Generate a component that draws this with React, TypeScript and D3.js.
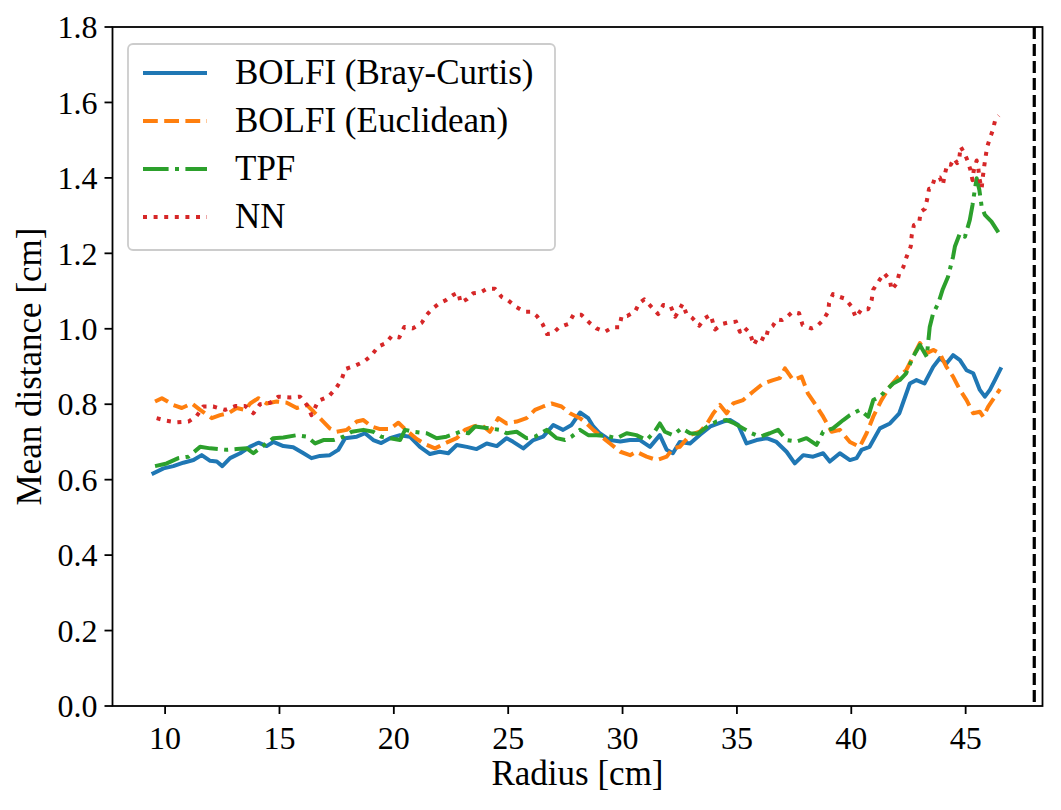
import React from 'react';
import * as d3 from 'd3';

// radius [cm] / mean distance [cm] for each method
const bcRadius = [9.49, 9.93, 10.36, 10.8, 11.24, 11.6, 11.97, 12.26, 12.5, 12.84, 13.28, 13.7, 14.08, 14.44, 14.73, 15.17, 15.6, 16.05, 16.4, 16.77, 17.2, 17.57, 17.87, 18.38, 18.74, 19.1, 19.45, 19.83, 20.27, 20.7, 21.14, 21.58, 22.0, 22.38, 22.75, 23.19, 23.62, 24.06, 24.5, 24.93, 25.2, 25.66, 26.1, 26.53, 26.97, 27.4, 27.77, 28.14, 28.5, 28.72, 29.0, 29.45, 29.9, 30.32, 30.76, 31.2, 31.63, 31.93, 32.2, 32.5, 32.95, 33.4, 33.84, 34.4, 34.7, 35.06, 35.42, 35.86, 36.3, 36.73, 37.17, 37.53, 37.9, 38.33, 38.77, 39.06, 39.5, 39.94, 40.23, 40.45, 40.8, 41.25, 41.69, 42.1, 42.56, 42.85, 43.2, 43.58, 43.87, 44.16, 44.45, 44.75, 45.04, 45.33, 45.62, 45.84, 46.06, 46.28, 46.52];
const bcMean = [0.617, 0.63, 0.636, 0.645, 0.652, 0.665, 0.65, 0.648, 0.636, 0.657, 0.67, 0.687, 0.698, 0.689, 0.7, 0.689, 0.686, 0.67, 0.657, 0.663, 0.665, 0.679, 0.71, 0.714, 0.723, 0.705, 0.697, 0.71, 0.718, 0.714, 0.687, 0.668, 0.674, 0.67, 0.692, 0.687, 0.681, 0.696, 0.689, 0.71, 0.701, 0.683, 0.705, 0.714, 0.745, 0.732, 0.745, 0.778, 0.763, 0.741, 0.723, 0.705, 0.701, 0.705, 0.705, 0.687, 0.718, 0.679, 0.67, 0.7, 0.696, 0.72, 0.741, 0.754, 0.758, 0.745, 0.696, 0.705, 0.71, 0.7, 0.674, 0.643, 0.665, 0.661, 0.67, 0.648, 0.67, 0.652, 0.657, 0.679, 0.687, 0.736, 0.749, 0.776, 0.855, 0.864, 0.855, 0.899, 0.922, 0.908, 0.93, 0.917, 0.89, 0.882, 0.838, 0.82, 0.838, 0.864, 0.893];

const euRadius = [9.56, 9.86, 10.36, 10.73, 11.17, 11.53, 12.04, 12.4, 12.77, 13.13, 13.5, 13.72, 14.08, 14.44, 14.88, 15.32, 15.76, 16.2, 16.5, 16.85, 17.2, 17.5, 17.94, 18.38, 18.67, 19.03, 19.4, 19.83, 20.2, 20.56, 21.0, 21.44, 21.8, 22.3, 22.75, 23.11, 23.47, 23.84, 24.2, 24.57, 24.93, 25.37, 25.8, 26.17, 26.53, 26.9, 27.33, 27.7, 28.14, 28.43, 28.72, 29.08, 29.45, 29.9, 30.33, 30.6, 31.05, 31.5, 31.93, 32.2, 32.5, 32.95, 33.4, 33.7, 33.97, 34.26, 34.55, 34.84, 35.27, 35.7, 36.15, 36.58, 36.87, 37.1, 37.46, 37.83, 38.1, 38.4, 38.77, 39.14, 39.5, 39.94, 40.37, 40.67, 40.96, 41.32, 41.69, 42.05, 42.4, 42.7, 43.0, 43.3, 43.58, 43.87, 44.16, 44.45, 44.75, 45.04, 45.33, 45.62, 45.77, 45.98, 46.28, 46.5];
const euMean = [0.807, 0.816, 0.798, 0.79, 0.802, 0.785, 0.763, 0.771, 0.776, 0.79, 0.785, 0.802, 0.816, 0.802, 0.807, 0.804, 0.79, 0.798, 0.78, 0.758, 0.736, 0.727, 0.732, 0.754, 0.758, 0.741, 0.734, 0.734, 0.751, 0.73, 0.708, 0.692, 0.683, 0.698, 0.71, 0.732, 0.741, 0.745, 0.727, 0.763, 0.749, 0.754, 0.763, 0.785, 0.794, 0.802, 0.794, 0.776, 0.763, 0.749, 0.732, 0.714, 0.696, 0.674, 0.665, 0.674, 0.661, 0.652, 0.661, 0.683, 0.687, 0.718, 0.728, 0.749, 0.776, 0.798, 0.776, 0.802, 0.811, 0.833, 0.855, 0.864, 0.869, 0.895, 0.864, 0.873, 0.829, 0.802, 0.767, 0.727, 0.732, 0.7, 0.687, 0.723, 0.767, 0.811, 0.847, 0.873, 0.89, 0.926, 0.962, 0.935, 0.944, 0.935, 0.899, 0.873, 0.838, 0.811, 0.776, 0.78, 0.767, 0.793, 0.82, 0.84];

const tpfRadius = [9.56, 10.07, 10.58, 11.02, 11.53, 11.97, 12.33, 12.7, 13.13, 13.57, 13.86, 14.23, 14.73, 15.17, 15.76, 16.2, 16.56, 16.92, 17.36, 17.8, 18.16, 18.67, 19.1, 19.45, 19.83, 20.27, 20.49, 20.85, 21.44, 21.87, 22.3, 22.9, 23.26, 23.55, 24.2, 24.64, 24.93, 25.37, 25.8, 26.17, 26.68, 27.12, 27.48, 27.77, 28.14, 28.5, 28.86, 29.3, 29.74, 30.18, 30.6, 31.05, 31.4, 31.63, 31.85, 32.2, 32.58, 32.95, 33.3, 33.7, 34.1, 34.55, 34.9, 35.27, 35.64, 36.0, 36.44, 36.8, 37.17, 37.6, 38.04, 38.48, 38.77, 39.2, 39.65, 39.94, 40.37, 40.74, 40.96, 41.25, 41.54, 41.83, 42.12, 42.4, 42.7, 43.0, 43.3, 43.43, 43.58, 43.8, 44.0, 44.23, 44.45, 44.53, 44.75, 44.97, 45.18, 45.3, 45.4, 45.48, 45.6, 45.7, 45.84, 46.13, 46.5];
const tpfMean = [0.636, 0.643, 0.657, 0.661, 0.687, 0.683, 0.681, 0.679, 0.681, 0.683, 0.67, 0.687, 0.71, 0.712, 0.718, 0.714, 0.696, 0.705, 0.705, 0.714, 0.727, 0.732, 0.727, 0.714, 0.71, 0.705, 0.732, 0.727, 0.723, 0.71, 0.714, 0.727, 0.723, 0.741, 0.736, 0.732, 0.723, 0.727, 0.71, 0.714, 0.732, 0.71, 0.705, 0.714, 0.732, 0.718, 0.718, 0.716, 0.71, 0.723, 0.718, 0.705, 0.727, 0.749, 0.727, 0.718, 0.736, 0.723, 0.722, 0.741, 0.754, 0.758, 0.749, 0.736, 0.723, 0.714, 0.723, 0.732, 0.705, 0.701, 0.71, 0.692, 0.727, 0.736, 0.758, 0.771, 0.785, 0.767, 0.811, 0.82, 0.838, 0.855, 0.864, 0.882, 0.926, 0.957, 0.926, 1.005, 1.041, 1.067, 1.105, 1.138, 1.191, 1.218, 1.253, 1.244, 1.288, 1.328, 1.368, 1.399, 1.368, 1.324, 1.302, 1.284, 1.249];

const nnRadius = [9.63, 10.07, 10.5, 11.02, 11.38, 11.67, 12.1, 12.62, 13.06, 13.5, 13.86, 14.15, 14.6, 14.95, 15.46, 15.9, 16.2, 16.4, 16.7, 17.14, 17.47, 17.72, 17.87, 18.26, 18.7, 19.03, 19.32, 19.66, 19.91, 20.24, 20.46, 20.83, 21.22, 21.44, 21.66, 22.0, 22.28, 22.6, 22.82, 22.92, 23.19, 23.47, 23.77, 24.06, 24.42, 24.72, 25.0, 25.37, 25.73, 26.02, 26.25, 26.5, 26.7, 26.95, 27.23, 27.63, 27.85, 28.2, 28.57, 28.86, 29.23, 29.57, 29.86, 29.96, 30.2, 30.54, 30.73, 30.95, 31.23, 31.56, 31.78, 32.1, 32.3, 32.5, 32.62, 32.8, 33.06, 33.35, 33.6, 33.85, 34.04, 34.38, 34.58, 34.96, 35.13, 35.3, 35.57, 35.74, 35.93, 36.24, 36.37, 36.56, 36.76, 36.97, 37.2, 37.43, 37.72, 37.87, 38.26, 38.5, 38.77, 38.99, 39.03, 39.2, 39.47, 39.72, 40.0, 40.2, 40.45, 40.74, 40.89, 40.96, 41.23, 41.44, 41.69, 41.76, 41.98, 42.1, 42.27, 42.42, 42.6, 42.64, 42.74, 42.97, 43.03, 43.22, 43.32, 43.4, 43.5, 43.65, 43.87, 44.0, 44.1, 44.2, 44.35, 44.5, 44.63, 44.72, 44.78, 44.95, 45.08, 45.2, 45.3, 45.35, 45.48, 45.55, 45.6, 45.7, 45.74, 45.8, 45.87, 45.94, 46.06, 46.18, 46.3, 46.45];
const nnMean = [0.763, 0.756, 0.752, 0.754, 0.769, 0.794, 0.794, 0.785, 0.795, 0.795, 0.776, 0.8, 0.804, 0.82, 0.818, 0.82, 0.798, 0.771, 0.809, 0.82, 0.842, 0.866, 0.893, 0.901, 0.913, 0.93, 0.953, 0.962, 0.981, 0.977, 1.005, 1.001, 1.016, 1.037, 1.052, 1.068, 1.076, 1.09, 1.096, 1.069, 1.078, 1.094, 1.096, 1.106, 1.106, 1.084, 1.075, 1.057, 1.045, 1.045, 1.034, 1.013, 0.986, 0.988, 1.004, 1.013, 1.037, 1.037, 1.015, 1.001, 0.992, 1.004, 1.004, 1.034, 1.034, 1.045, 1.068, 1.078, 1.06, 1.039, 1.063, 1.06, 1.032, 1.052, 1.066, 1.039, 1.028, 1.008, 1.028, 1.037, 0.998, 1.013, 1.016, 1.019, 0.992, 1.005, 0.988, 0.957, 0.979, 0.97, 0.999, 1.007, 1.025, 1.023, 1.032, 1.045, 1.041, 1.01, 1.001, 1.007, 1.023, 1.045, 1.068, 1.092, 1.085, 1.08, 1.06, 1.03, 1.052, 1.052, 1.076, 1.104, 1.129, 1.147, 1.129, 1.103, 1.12, 1.147, 1.163, 1.191, 1.218, 1.247, 1.275, 1.281, 1.31, 1.318, 1.344, 1.371, 1.371, 1.399, 1.401, 1.381, 1.412, 1.437, 1.435, 1.451, 1.439, 1.451, 1.483, 1.465, 1.446, 1.423, 1.394, 1.418, 1.446, 1.428, 1.399, 1.372, 1.397, 1.426, 1.455, 1.482, 1.505, 1.525, 1.555, 1.565];

const seriesNames = ['BOLFI (Bray-Curtis)', 'BOLFI (Euclidean)', 'TPF', 'NN'];
const xTicks = [10, 15, 20, 25, 30, 35, 40, 45];
const yTicks = [0, 0.2, 0.4, 0.6, 0.8, 1.0, 1.2, 1.4, 1.6, 1.8];
const limitRadius = 48;

const W = 1061;
const H = 810;
const LW = 4;
const FONT = '"Liberation Serif", "DejaVu Serif", serif';

const series = [
  { name: seriesNames[0], r: bcRadius, v: bcMean, color: '#1f77b4', dash: null },
  { name: seriesNames[1], r: euRadius, v: euMean, color: '#ff7f0e', dash: `${3.7 * LW},${1.6 * LW}` },
  { name: seriesNames[2], r: tpfRadius, v: tpfMean, color: '#2ca02c', dash: `${6.4 * LW},${1.6 * LW},${1 * LW},${1.6 * LW}` },
  { name: seriesNames[3], r: nnRadius, v: nnMean, color: '#d62728', dash: `${1 * LW},${1.65 * LW}` },
];

export default function App() {
  const left = 112.5;
  const right = 1042.5;
  const top = 27;
  const bottom = 706;

  const x = d3.scaleLinear().domain([7.7, 48.36]).range([left, right]);
  const y = d3.scaleLinear().domain([0, 1.8]).range([bottom, top]);

  const line = d3.line<[number, number]>()
    .x((d) => x(d[0]))
    .y((d) => y(d[1]));

  const fmt = d3.format('.1f');
  const rowY = (i: number) => 73 + i * 48;

  return (
    <svg width={W} height={H} style={{ position: 'absolute', left: 0, top: 0, background: '#fff' }} fontFamily={FONT}>
      <rect x={0} y={0} width={W} height={H} fill="#fff" />

      {/* data lines */}
      {series.map((s) => (
        <path
          key={s.name}
          d={line(s.r.map((r, i) => [r, s.v[i]] as [number, number])) || ''}
          fill="none"
          stroke={s.color}
          strokeWidth={LW}
          strokeDasharray={s.dash || undefined}
          strokeLinejoin="round"
          strokeLinecap={s.dash ? 'butt' : 'square'}
        />
      ))}

      {/* vertical limit line */}
      <line x1={x(limitRadius)} x2={x(limitRadius)} y1={top} y2={bottom} stroke="#000" strokeWidth={3.2} strokeDasharray="12,5" />

      {/* spines */}
      <rect x={left} y={top} width={right - left} height={bottom - top} fill="none" stroke="#000" strokeWidth={1.8} />

      {/* x axis */}
      {xTicks.map((t) => (
        <g key={t} transform={`translate(${x(t)},${bottom})`}>
          <line y1={0} y2={8} stroke="#000" strokeWidth={1.8} />
          <text y={43} textAnchor="middle" fontSize={32} fill="#000">{t}</text>
        </g>
      ))}
      <text x={(left + right) / 2} y={785} textAnchor="middle" fontSize={35} fill="#000">Radius [cm]</text>

      {/* y axis */}
      {yTicks.map((t) => (
        <g key={t} transform={`translate(${left},${y(t)})`}>
          <line x1={0} x2={-8} stroke="#000" strokeWidth={1.8} />
          <text x={-15} dy="0.35em" textAnchor="end" fontSize={32} fill="#000">{fmt(t)}</text>
        </g>
      ))}
      <text transform={`translate(41,${(top + bottom) / 2}) rotate(-90)`} textAnchor="middle" fontSize={35} fill="#000">Mean distance [cm]</text>

      {/* legend */}
      <rect x={128} y={44} width={427} height={206} rx={5} fill="#fff" fillOpacity={0.8} stroke="#cccccc" strokeWidth={1.8} />
      {series.map((s, i) => (
        <g key={s.name}>
          <line
            x1={143}
            x2={207}
            y1={rowY(i)}
            y2={rowY(i)}
            stroke={s.color}
            strokeWidth={LW}
            strokeDasharray={s.dash || undefined}
          />
          <text x={235} y={rowY(i) + 11} fontSize={35} fill="#000">{s.name}</text>
        </g>
      ))}
    </svg>
  );
}
